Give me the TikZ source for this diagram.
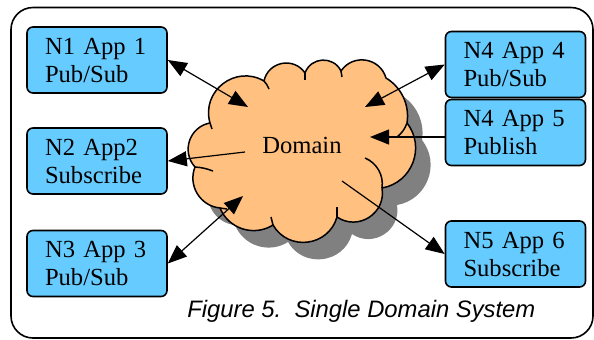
\documentclass[tikz,border=0pt]{standalone}
\usepackage{fontspec}
\setmainfont{Liberation Serif}
\newfontfamily\capfont{Liberation Sans}
\usetikzlibrary{arrows.meta}
\definecolor{boxblue}{HTML}{66CCFF}
\definecolor{cloudfill}{HTML}{FFC080}
\definecolor{shadowgray}{HTML}{808080}
% outline of the domain cloud: one circular puff between each pair of cusps
% (bend angle a, looseness 1.7029/(1+cos a) gives a true circular arc)
\newcommand\domainoutline{(210,123)
  to[bend left=68, looseness=1.239] (264,81)
  to[bend left=67, looseness=1.225] (305,73)
  to[bend left=67, looseness=1.225] (341,71)
  to[bend left=65, looseness=1.197] (386,78)
  to[bend left=34, looseness=0.931] (407,123)
  to[bend left=59, looseness=1.124] (382,188)
  to[bend left=67, looseness=1.225] (337,217)
  to[bend left=67, looseness=1.225] (273,225)
  to[bend left=50, looseness=1.037] (220,208)
  to[bend left=53, looseness=1.063] (195,167)
  to[bend left=61, looseness=1.147] cycle}
\begin{document}
\begin{tikzpicture}[x=0.5pt,y=-0.5pt,
  appbox/.style={draw, line width=0.8pt, rounded corners=3pt, fill=boxblue,
    minimum width=70pt, minimum height=33pt, text width=52pt, align=left,
    inner sep=0pt, font=\fontsize{12.3}{14}\selectfont},
  puffline/.style={line width=0.75pt},
  tip/.tip={Triangle[length=9.5pt,width=7.5pt]},
  link/.style={line width=0.6pt}]
\useasboundingbox (0,0) rectangle (594,339);

% outer frame
\draw[line width=0.8pt, rounded corners=11pt] (11,7.5) rectangle (593,338);

% domain cloud with its drop shadow
\fill[shadowgray, shift={(15,17)}] \domainoutline;
\filldraw[puffline, fill=cloudfill] \domainoutline;
% inner ends of the puffs
\draw[puffline] (210,123) -- (212,129);
\draw[puffline] (264,81) to[bend left=10] (269,89);
\draw[puffline] (305,73) -- (305,80);
\draw[puffline] (341,71) -- (342,77);
\draw[puffline] (407,123) to[bend left=15] (397,137);
\draw[puffline] (382,188) to[bend right=38, looseness=0.952] (365,158);
\draw[puffline] (337,217) -- (337,207);
\draw[puffline] (273,225) -- (271,217);
\draw[puffline] (220,208) -- (227,209);
\draw[puffline] (195,167) to[bend left=8] (213,171);
\node[font=\fontsize{12.3}{14}\selectfont, inner sep=0pt] (dom) at (302,145) {Domain};

% applications
\node[appbox] (n1) at (97,60) {N1 App 1\\Pub/Sub};
\node[appbox] (n2) at (97,161) {N2 App2\\Subscribe};
\node[appbox] (n3) at (97,263.5) {N3 App 3\\Pub/Sub};
\node[appbox] (n4) at (515.5,64.5) {N4 App 4\\Pub/Sub};
\node[appbox] (n5) at (515.5,132.5) {N4 App 5\\Publish};
\node[appbox] (n6) at (515.5,254) {N5 App 6\\Subscribe};

% connection points inside the domain
\coordinate (c1) at (248,107);
\coordinate (c2) at (245,152);
\coordinate (c3) at (243,196);
\coordinate (c4) at (365,107);
\coordinate (c5) at (370,137);
\coordinate (c6) at (342,181);

\draw[link, tip-tip] (n1.east) -- (c1);
\draw[link, -tip] (c2) -- (n2.east);
\draw[link, tip-tip] (n3.east) -- (c3);
\draw[link, tip-tip] (c4) -- (n4.west);
\draw[link, -tip] (n5.west |- c5) -- (c5);
\draw[link, -tip] (c6) -- (n6.west);

% caption
\node[anchor=base west, inner sep=0pt,
  font=\capfont\itshape\fontsize{11.9}{14}\selectfont] (cap) at (187,317)
  {Figure 5.\ \ Single Domain System};
\end{tikzpicture}
\end{document}
